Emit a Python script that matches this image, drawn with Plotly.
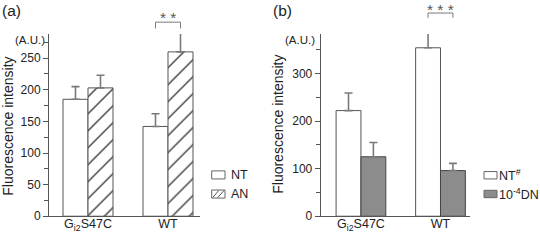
import plotly.graph_objects as go

# ---- data ----
categories = ["G<sub>i2</sub>S47C", "WT"]
a_nt = [185, 142]
a_nt_err = [20, 20]
a_an = [203, 260]
a_an_err = [20, 30]
b_nt = [222, 354]
b_nt_err = [37, 54]
b_dn = [125, 96]
b_dn_err = [30, 15]
a_ticks = [0, 50, 100, 150, 200, 250]
b_ticks = [0, 100, 200, 300]
sig_a = {"cat": 1, "y": 307, "leg": 10, "text": "* *"}
sig_b = {"cat": 1, "y": 427, "leg": 10, "text": "* * *"}

# ---- layout geometry ----
W, H = 540, 241
BARGAP = 0.375
ydom = [(241 - 222.7) / 241, (241 - 35) / 241]
xa_dom = [49 / W, 200 / W]
xb_dom = [320.7 / W, 470 / W]
xa_rng = [-0.4875, 1.4]
xb_rng = [-0.506, 1.371]
ya_rng = [0, 288.3]
yb_rng = [0, 383]

FONT = "Arial, Liberation Sans, Helvetica, sans-serif"
TXT = "#222"
EDGE = "#555"
ERRC = "#7a7a7a"


def px(dom, rng, v):
    return dom[0] + (v - rng[0]) / (rng[1] - rng[0]) * (dom[1] - dom[0])


fig = go.Figure()

err_style = dict(type="data", symmetric=False, color=ERRC, thickness=1.6, width=4)

fig.add_trace(go.Bar(
    x=categories, y=a_nt, name="NT", xaxis="x", yaxis="y",
    marker=dict(color="white", line=dict(color=EDGE, width=1)),
    error_y=dict(array=a_nt_err, arrayminus=[0, 0], **err_style),
    showlegend=False, offsetgroup="1"))
fig.add_trace(go.Bar(
    x=categories, y=a_an, name="AN", xaxis="x", yaxis="y",
    marker=dict(color="white", line=dict(color=EDGE, width=1),
                pattern=dict(shape="/", fgcolor="#444", bgcolor="white",
                             size=12, solidity=0.12, fillmode="replace")),
    error_y=dict(array=a_an_err, arrayminus=[0, 0], **err_style),
    showlegend=False, offsetgroup="2"))
fig.add_trace(go.Bar(
    x=categories, y=b_nt, name="NT#", xaxis="x2", yaxis="y2",
    marker=dict(color="white", line=dict(color=EDGE, width=1)),
    error_y=dict(array=b_nt_err, arrayminus=[0, 0], **err_style),
    showlegend=False, offsetgroup="1"))
fig.add_trace(go.Bar(
    x=categories, y=b_dn, name="DN", xaxis="x2", yaxis="y2",
    marker=dict(color="#8c8c8c", line=dict(color="#444", width=1)),
    error_y=dict(array=b_dn_err, arrayminus=[0, 0], **err_style),
    showlegend=False, offsetgroup="2"))

xcommon = dict(showline=True, linecolor=EDGE, linewidth=1, ticks="",
               showgrid=False, zeroline=False, type="category",
               ticklabelstandoff=-4,
               tickfont=dict(family=FONT, size=12.5, color=TXT), fixedrange=True)
ycommon = dict(showline=True, linecolor=EDGE, linewidth=1, ticks="outside",
               ticklen=5, tickcolor=EDGE, showgrid=False, zeroline=False,
               tickfont=dict(family=FONT, size=12, color=TXT), domain=ydom)

shapes = []
annotations = []

for (sig, xdom, xrng, yr) in [(sig_a, xa_dom, xa_rng, ya_rng),
                              (sig_b, xb_dom, xb_rng, yb_rng)]:
    off = (1 - BARGAP) / 4
    x0 = px(xdom, xrng, sig["cat"] - off)
    x1 = px(xdom, xrng, sig["cat"] + off)
    xc = px(xdom, xrng, sig["cat"])
    yt = px(ydom, yr, sig["y"])
    yb = px(ydom, yr, sig["y"] - sig["leg"])
    ys = px(ydom, yr, sig["y"] + sig["leg"] * 0.8)
    shapes.append(dict(type="path", xref="paper", yref="paper",
                       path=f"M{x0},{yb} L{x0},{yt} L{x1},{yt} L{x1},{yb}",
                       line=dict(color=ERRC, width=1)))
    annotations.append(dict(x=xc, y=ys, xref="paper", yref="paper",
                            text=sig["text"], showarrow=False,
                            font=dict(family=FONT, size=15.5, color="#555"),
                            xanchor="center", yanchor="middle"))


def pp(xp, yp):
    return xp / W, 1 - yp / H


# panel labels, units, axis titles
for txt, xp in [("(a)", 0), ("(b)", 271)]:
    x, y = pp(xp, 0)
    annotations.append(dict(x=x, y=y, xref="paper", yref="paper", text=txt,
                            showarrow=False, xanchor="left", yanchor="top",
                            font=dict(family=FONT, size=15.5, color=TXT)))
for xp in [12.5, 283]:
    x, y = pp(xp, 41)
    annotations.append(dict(x=x, y=y, xref="paper", yref="paper", text="(A.U.)",
                            showarrow=False, xanchor="left", yanchor="middle",
                            font=dict(family=FONT, size=11.5, color=TXT)))
for xp, yp in [(8.5, 130), (278.5, 128)]:
    x, y = pp(xp, yp)
    annotations.append(dict(x=x, y=y, xref="paper", yref="paper",
                            text="Fluorescence intensity", textangle=-90,
                            showarrow=False, xanchor="center", yanchor="middle",
                            font=dict(family=FONT, size=14, color=TXT)))

# legends (manual swatches)
legend_items = [
    (211.7, 176, 225, 184.3, "white", False, "NT", 229, 12.5),
    (211.7, 195.7, 225, 204, "white", True, "AN", 229, 12.5),
    (484, 176.7, 497, 184.3, "white", False, "NT<sup>#</sup>", 497, 12.5),
    (484, 196, 497, 203.6, "#8c8c8c", False, "10<sup>-4</sup>DN", 497, 12.5),
]
for x0p, y0p, x1p, y1p, fc, hatch, label, tx, fs in legend_items:
    x0, y0 = pp(x0p, y1p)
    x1, y1 = pp(x1p, y0p)
    shapes.append(dict(type="rect", xref="paper", yref="paper", x0=x0, y0=y0,
                       x1=x1, y1=y1, fillcolor=fc, line=dict(color="#666", width=1)))
    if hatch:
        for a0, a1 in [(x0p + 1, x0p + 7), (x0p + 6, x1p - 1)]:
            lx0, ly0 = pp(a0, y1p - 0.5)
            lx1, ly1 = pp(a1, y0p + 0.5)
            shapes.append(dict(type="line", xref="paper", yref="paper",
                               x0=lx0, y0=ly0, x1=lx1, y1=ly1,
                               line=dict(color="#555", width=1)))
    x, y = pp(tx, (y0p + y1p) / 2)
    annotations.append(dict(x=x, y=y, xref="paper", yref="paper", text=label,
                            showarrow=False, xanchor="left", yanchor="middle",
                            font=dict(family=FONT, size=fs, color=TXT)))

fig.update_layout(
    width=W, height=H,
    margin=dict(l=0, r=0, t=0, b=0),
    paper_bgcolor="white", plot_bgcolor="white",
    barmode="group", bargap=BARGAP, bargroupgap=0,
    showlegend=False,
    xaxis=dict(domain=xa_dom, range=xa_rng, anchor="y", **xcommon),
    yaxis=dict(range=ya_rng, tickvals=a_ticks, anchor="x",
               minor=dict(dtick=25, ticks="outside", ticklen=4, tickcolor=EDGE),
               **ycommon),
    xaxis2=dict(domain=xb_dom, range=xb_rng, anchor="y2", **xcommon),
    yaxis2=dict(range=yb_rng, tickvals=b_ticks, anchor="x2",
                minor=dict(dtick=50, ticks="outside", ticklen=4, tickcolor=EDGE),
                **ycommon),
    shapes=shapes,
    annotations=annotations,
)

fig.write_html("out.html",
               config={"displayModeBar": False, "staticPlot": True},
               post_script="document.body.style.margin='0';document.body.style.overflow='hidden';")
